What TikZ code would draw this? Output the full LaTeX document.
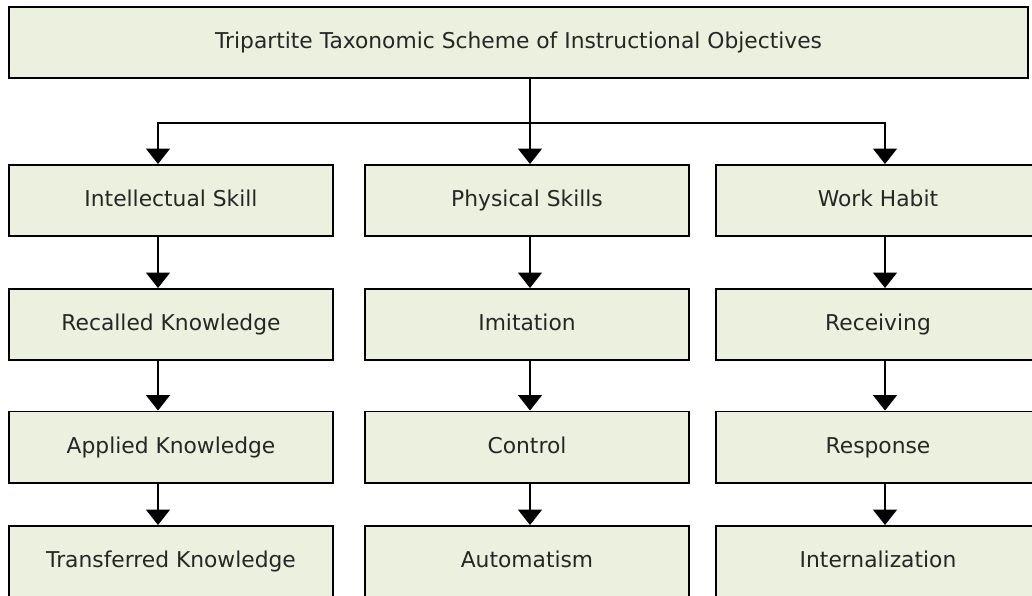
\documentclass[tikz,border=0pt]{standalone}
\usepackage{fontspec}
\setmainfont{DejaVu Sans}
\usetikzlibrary{arrows.meta}

\definecolor{boxgreen}{RGB}{235,241,222}
\tikzset{
  box/.style={draw=black, fill=boxgreen, line width=1.4pt, inner sep=0pt,
    minimum width=8.1cm, minimum height=1.775cm, text=black!85,
    text height=0.89em, text depth=0em,
    font=\fontsize{15.5}{18}\selectfont},
  arr/.style={-{Triangle[width=17pt,length=11pt]}, line width=1.4pt},
  link/.style={line width=1.4pt}
}

\begin{document}
\begin{tikzpicture}[x=0.025cm,y=-0.025cm]
  \clip (0,0) rectangle (1032,595);
  \node [box, minimum width=25.475cm] (top) at (518.5,42.5)
    {Tripartite Taxonomic Scheme of Instructional Objectives};

  % the three columns
  \foreach \x/\t [count=\i] in {171/Intellectual Skill, 527/Physical Skills, 878/Work Habit}
    \node [box] (a\i) at (\x,200.5) {\t};
  \foreach \x/\t [count=\i] in {171/Recalled Knowledge, 527/Imitation, 878/Receiving}
    \node [box] (b\i) at (\x,324.5) {\t};
  \foreach \x/\t [count=\i] in {171/Applied Knowledge, 527/Control, 878/Response}
    \node [box] (c\i) at (\x,447) {\t};
  \foreach \x/\t [count=\i] in {171/Transferred Knowledge, 527/Automatism, 878/Internalization}
    \node [box] (d\i) at (\x,561.5) {\t};

  % arrow lines
  \coordinate (ax1) at (158,123);
  \coordinate (ax2) at (530,123);
  \coordinate (ax3) at (885,123);

  \draw [link] (top.south -| ax2) -- (ax2);
  \foreach \i in {1,2,3}
  {
    \draw [arr] (ax2) -| (a\i.north -| ax\i);
    \draw [arr] (a\i.south -| ax\i) -- (b\i.north -| ax\i);
    \draw [arr] (b\i.south -| ax\i) -- (c\i.north -| ax\i);
    \draw [arr] (c\i.south -| ax\i) -- (d\i.north -| ax\i);
  }
  \draw [link] (ax1) -- (ax3);
\end{tikzpicture}
\end{document}
